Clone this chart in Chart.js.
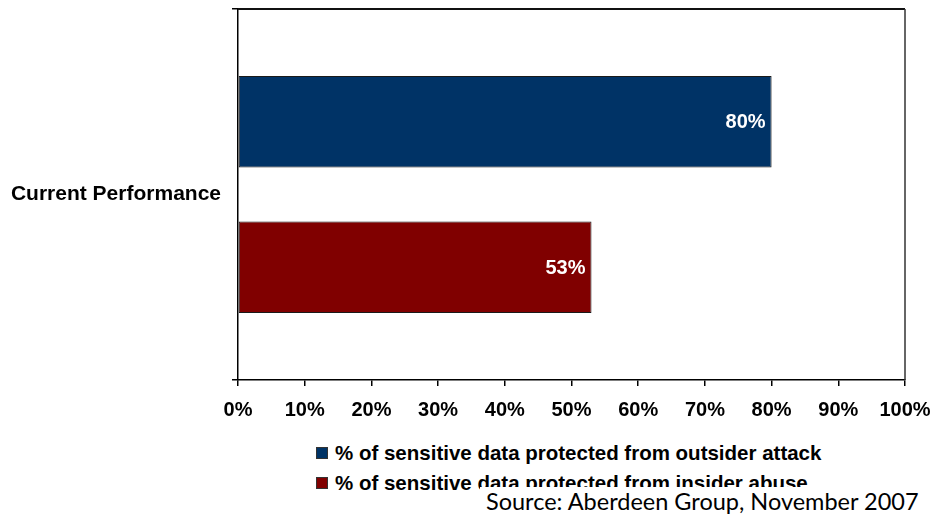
<!DOCTYPE html>
<html>
<head>
<meta charset="utf-8">
<script src="https://cdn.jsdelivr.net/npm/chart.js@4/dist/chart.umd.min.js"></script>
<style>
  body { margin: 0; background: #fff; }
  #wrap { position: relative; width: 932px; height: 514px; overflow: hidden; }
  #chart { position: absolute; left: 0; top: 0; }
  #legend { position: absolute; left: 316px; top: 439px; font: bold 20.5px "Liberation Sans", Arial, sans-serif; color: #000; }
  #legend div { height: 30px; line-height: 28px; white-space: nowrap; }
  #legend span.box { display: inline-block; width: 10px; height: 10px; border: 1px solid #333; margin-right: 7px; vertical-align: 1px; }
  #source { position: absolute; left: 480px; top: 487px; padding: 0 6px; background: #fff; font: 23.5px Lato, "Open Sans", sans-serif; color: #000; line-height: 28px; white-space: nowrap; }
</style>
</head>
<body>
<div id="wrap">
  <canvas id="chart" width="932" height="430"></canvas>
  <div id="legend"></div>
  <div id="source">Source: Aberdeen Group, November 2007</div>
</div>
<script>
// Chart data
const categories = ["Current Performance"];
const seriesNames = [
  "% of sensitive data protected from outsider attack",
  "% of sensitive data protected from insider abuse"
];
const outsiderValues = [80];
const insiderValues = [53];
const seriesColors = ["#003366", "#800000"];
const xTicks = [0, 10, 20, 30, 40, 50, 60, 70, 80, 90, 100];

const labelFont = { family: "'Liberation Sans', Arial, sans-serif", size: 20, weight: "bold" };

// draws the top/right frame and the value labels inside the bars
const frameAndValues = {
  id: "frameAndValues",
  afterDatasetsDraw(chart) {
    const { ctx, chartArea: a } = chart;
    ctx.save();
    ctx.strokeStyle = "#111";
    ctx.lineWidth = 2;
    ctx.beginPath();
    ctx.moveTo(a.left, a.top);
    ctx.lineTo(a.right, a.top);
    ctx.stroke();
    ctx.strokeStyle = "#333";
    ctx.lineWidth = 1.5;
    ctx.beginPath();
    ctx.moveTo(a.right, a.top);
    ctx.lineTo(a.right, a.bottom);
    ctx.stroke();

    ctx.fillStyle = "#fff";
    ctx.font = "bold 20px 'Liberation Sans', Arial, sans-serif";
    ctx.textAlign = "right";
    ctx.textBaseline = "middle";
    chart.data.datasets.forEach((ds, i) => {
      chart.getDatasetMeta(i).data.forEach((bar, j) => {
        ctx.fillText(ds.data[j] + "%", bar.x - 6, bar.y + 1);
      });
    });
    ctx.restore();
  }
};

const chart = new Chart(document.getElementById("chart"), {
  type: "bar",
  data: {
    labels: categories,
    datasets: [
      { label: seriesNames[0], data: outsiderValues, backgroundColor: seriesColors[0] },
      { label: seriesNames[1], data: insiderValues, backgroundColor: seriesColors[1] }
    ]
  },
  options: {
    indexAxis: "y",
    responsive: false,
    animation: false,
    layout: { padding: { top: 9, right: 27, left: 0, bottom: 0 } },
    datasets: {
      bar: { categoryPercentage: 0.784, barPercentage: 0.63, borderColor: "#1a1a1a", borderWidth: 1, borderSkipped: false }
    },
    plugins: { legend: { display: false }, tooltip: { enabled: false } },
    scales: {
      x: {
        min: 0,
        max: 100,
        afterBuildTicks: (s) => { s.ticks = xTicks.map(v => ({ value: v })); },
        afterFit: (s) => { s.height = 50; s.paddingLeft = 0; s.paddingRight = 0; },
        grid: { drawOnChartArea: false, drawTicks: true, tickLength: 6, color: "#000", lineWidth: 1.5 },
        border: { color: "#000", width: 1.5 },
        ticks: { color: "#000", font: labelFont, padding: 12, maxRotation: 0, callback: (v) => v + "%" }
      },
      y: {
        afterFit: (s) => { s.width = 238; s.paddingTop = 0; s.paddingBottom = 0; },
        grid: { offset: true, drawOnChartArea: false, drawTicks: true, tickLength: 6, color: "#000", lineWidth: 1.5 },
        border: { color: "#000", width: 1.5 },
        ticks: { color: "#000", font: { ...labelFont, size: 21 }, padding: 11 }
      }
    }
  },
  plugins: [frameAndValues]
});

// legend built from the chart's datasets
const legendEl = document.getElementById("legend");
chart.data.datasets.forEach((ds) => {
  const row = document.createElement("div");
  const box = document.createElement("span");
  box.className = "box";
  box.style.background = ds.backgroundColor;
  row.appendChild(box);
  row.appendChild(document.createTextNode(ds.label));
  legendEl.appendChild(row);
});
</script>
</body>
</html>
